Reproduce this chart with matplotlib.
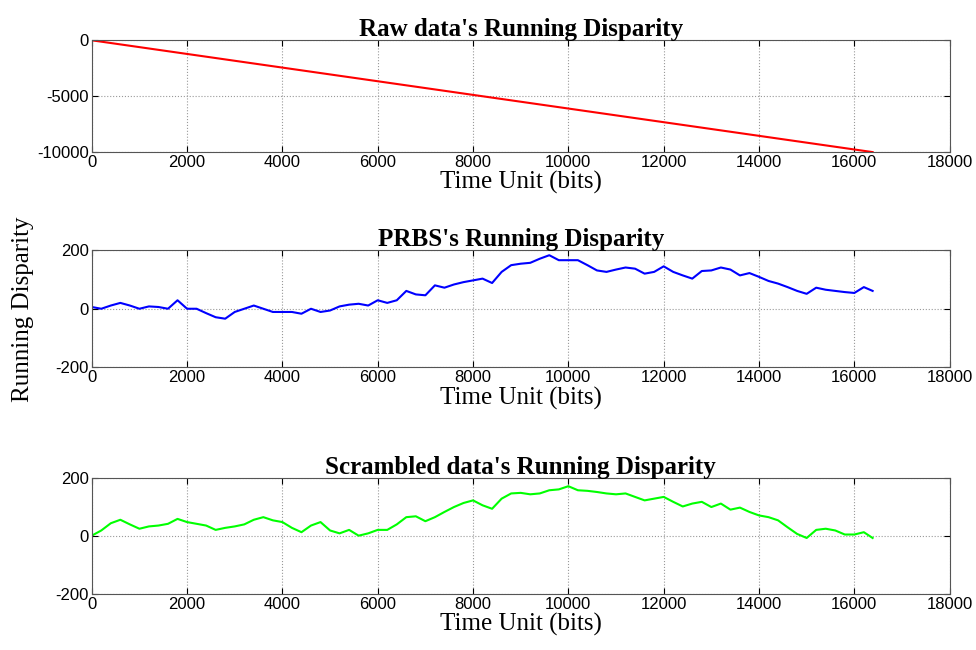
import numpy as np
from matplotlib import pyplot as plt

plt.rcParams['axes.unicode_minus'] = False

# bit positions where the curves were read (every 200 bits, last point is 16384)
bits = list(range(0, 16400, 200)) + [16384]
bits = bits[:83]

raw_end = 16384
raw_x = [0, raw_end]
raw_y = [0, -10000]

prbs = [6, 0, 11, 20, 11, 0, 8, 6, 0, 29,
        0, 0, -15, -29, -34, -11, 0, 11, 0, -11,
        -11, -11, -17, 0, -11, -6, 8, 14, 17, 11,
        29, 20, 29, 61, 49, 46, 80, 72, 83, 91,
        97, 103, 88, 126, 149, 154, 157, 171, 183, 166,
        166, 166, 149, 131, 126, 134, 141, 137, 120, 126,
        145, 126, 114, 103, 129, 131, 141, 134, 114, 122,
        109, 95, 86, 74, 61, 51, 72, 65, 61, 57,
        54, 74, 61]

scram = [2, 20, 45, 57, 41, 26, 34, 37, 43, 60,
         49, 43, 37, 22, 29, 34, 41, 57, 66, 55,
         49, 29, 14, 37, 49, 20, 10, 22, 2, 10,
         22, 22, 41, 66, 69, 52, 66, 84, 101, 115,
         124, 107, 95, 130, 148, 150, 145, 148, 159, 162,
         173, 159, 157, 153, 148, 145, 148, 136, 124, 130,
         136, 119, 103, 113, 119, 101, 113, 92, 99, 84,
         72, 66, 55, 31, 8, -6, 22, 26, 20, 6,
         6, 14, -6]

x_ticks = list(range(0, 18001, 2000))
serif = ['Liberation Serif', 'DejaVu Serif']

fig = plt.figure(figsize=(9.76, 6.5), dpi=100)
ax1 = fig.add_axes([0.094, 0.766, 0.879, 0.172])
ax2 = fig.add_axes([0.094, 0.435, 0.879, 0.180])
ax3 = fig.add_axes([0.094, 0.086, 0.879, 0.178])

ax1.plot(raw_x, raw_y, color='red', lw=1.5)
ax2.plot(bits, prbs, color='blue', lw=1.5)
ax3.plot(bits, scram, color=(0, 1, 0), lw=1.5)

titles = ["Raw data's Running Disparity", "PRBS's Running Disparity",
          "Scrambled data's Running Disparity"]

ax1.set_ylim(-10000, 0)
ax1.set_yticks([-10000, -5000, 0])
for ax in [ax2, ax3]:
    ax.set_ylim(-200, 200)
    ax.set_yticks([-200, 0, 200])

for ax, t in zip([ax1, ax2, ax3], titles):
    ax.set_xlim(0, 18000)
    ax.set_xticks(x_ticks)
    ax.grid(True, linestyle=':', color='#999999', lw=0.8)
    ax.tick_params(direction='in', labelsize=12, length=4, pad=2,
                   top=True, right=True)
    for lbl in ax.get_xticklabels() + ax.get_yticklabels():
        lbl.set_family('Liberation Sans')
    ax.set_title(t, fontsize=18, fontweight='bold', family=serif, pad=3)
    ax.set_xlabel('Time Unit (bits)', fontsize=18, family=serif, labelpad=1)
    for s in ax.spines.values():
        s.set_color('#555555')

fig.text(0.024, 0.525, 'Running Disparity', rotation=90, fontsize=18,
         family=serif, ha='center', va='center')

fig.savefig('out.png', dpi=100)
